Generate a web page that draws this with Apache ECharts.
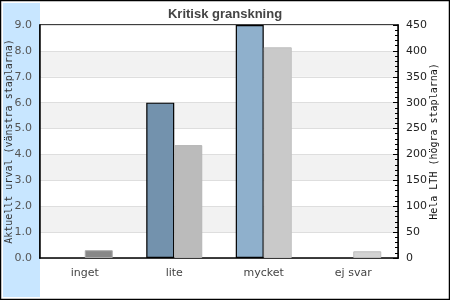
<!DOCTYPE html>
<html><head><meta charset="utf-8">
<script src="https://cdn.jsdelivr.net/npm/echarts@6/dist/echarts.min.js"></script>
<style>html,body{margin:0;padding:0;background:#fff}#c{width:450px;height:300px}</style>
</head><body><div id="c"></div>
<script>
const categories = ['inget', 'lite', 'mycket', 'ej svar'];
const leftValues = [0, 6.0, 9.0, 0];          // Aktuellt urval (vänstra staplarna)
const rightValues = [15, 218, 407, 13];       // Hela LTH (högra staplarna)
const leftTicks = [0, 9, 1];                  // min, max, interval
const rightTicks = [0, 450, 50];
const leftColors = ['#7392ad', '#7392ad', '#8fb0cc', '#8fb0cc'];
const rightColors = ['#888888', '#bbbbbb', '#c9c9c9', '#d3d3d3'];
const rightBorders = ['#aaaaaa', '#b4b4b4', '#c0c0c0', '#bdbdbd'];

const chart = echarts.init(document.getElementById('c'), null, {renderer: 'canvas'});
chart.setOption({
  animation: false,
  backgroundColor: '#fff',
  title: {
    text: 'Kritisk granskning', left: 'center', top: 3,
    textStyle: {fontFamily: 'Liberation Sans', fontWeight: 'bold', fontSize: 13, color: '#444'}
  },
  graphic: [
    {type: 'rect', z: -10, silent: true, shape: {x: 3, y: 3, width: 37, height: 294}, style: {fill: '#c8e6ff'}},
    {type: 'rect', z: 100, silent: true, shape: {x: 0.5, y: 0.5, width: 449, height: 299}, style: {fill: 'none', stroke: '#000', lineWidth: 1.5}}
  ],
  grid: {left: 40, right: 52, top: 25, bottom: 42, containLabel: false, outerBoundsMode: 'none',
    show: true, borderColor: '#000', borderWidth: 1.5, backgroundColor: 'transparent'},
  xAxis: {
    type: 'category', data: categories,
    axisTick: {show: false},
    axisLine: {lineStyle: {color: '#000', width: 1.5}},
    axisLabel: {margin: 10, fontFamily: 'DejaVu Sans', fontSize: 11, color: '#444'}
  },
  yAxis: [
    {
      type: 'value', min: leftTicks[0], max: leftTicks[1], interval: leftTicks[2],
      name: 'Aktuellt urval (vänstra staplarna)', nameLocation: 'middle', nameRotate: 90, nameGap: 26,
      nameMoveOverlap: false,
      nameTextStyle: {fontFamily: 'DejaVu Sans Mono', fontSize: 10, color: '#333'},
      axisLine: {show: true, lineStyle: {color: '#000', width: 1.5}},
      axisTick: {show: false},
      axisLabel: {margin: 8, fontFamily: 'DejaVu Sans', fontSize: 11, color: '#555', formatter: v => v.toFixed(1)},
      splitLine: {show: true, lineStyle: {color: '#dedede', width: 1}},
      splitArea: {show: true, areaStyle: {color: ['#ffffff', '#f2f2f2']}}
    },
    {
      type: 'value', min: rightTicks[0], max: rightTicks[1], interval: rightTicks[2], position: 'right',
      name: 'Hela LTH (högra staplarna)', nameLocation: 'middle', nameRotate: 90, nameGap: 31,
      nameMoveOverlap: false,
      nameTextStyle: {fontFamily: 'DejaVu Sans Mono', fontSize: 10, color: '#111'},
      axisLine: {show: true, lineStyle: {color: '#000', width: 1.5}},
      axisTick: {show: true, inside: true, length: 5, lineStyle: {color: '#000'}},
      minorTick: {show: true, splitNumber: 5, length: 3, lineStyle: {color: '#000'}},
      axisLabel: {margin: 8, fontFamily: 'DejaVu Sans', fontSize: 11, color: '#222'},
      splitLine: {show: false}
    }
  ],
  series: [
    {
      type: 'bar', yAxisIndex: 0, barWidth: 28, barGap: '0%',
      data: leftValues.map((v, i) => ({value: v, itemStyle: {color: leftColors[i], borderWidth: v === 0 ? 0 : 1.2}})),
      itemStyle: {borderColor: '#000', borderWidth: 1.2}
    },
    {
      type: 'bar', yAxisIndex: 1, barWidth: 28, barGap: '0%',
      data: rightValues.map((v, i) => ({value: v, itemStyle: {color: rightColors[i], borderColor: rightBorders[i]}})),
      itemStyle: {borderWidth: 1}
    }
  ]
});
</script></body></html>
